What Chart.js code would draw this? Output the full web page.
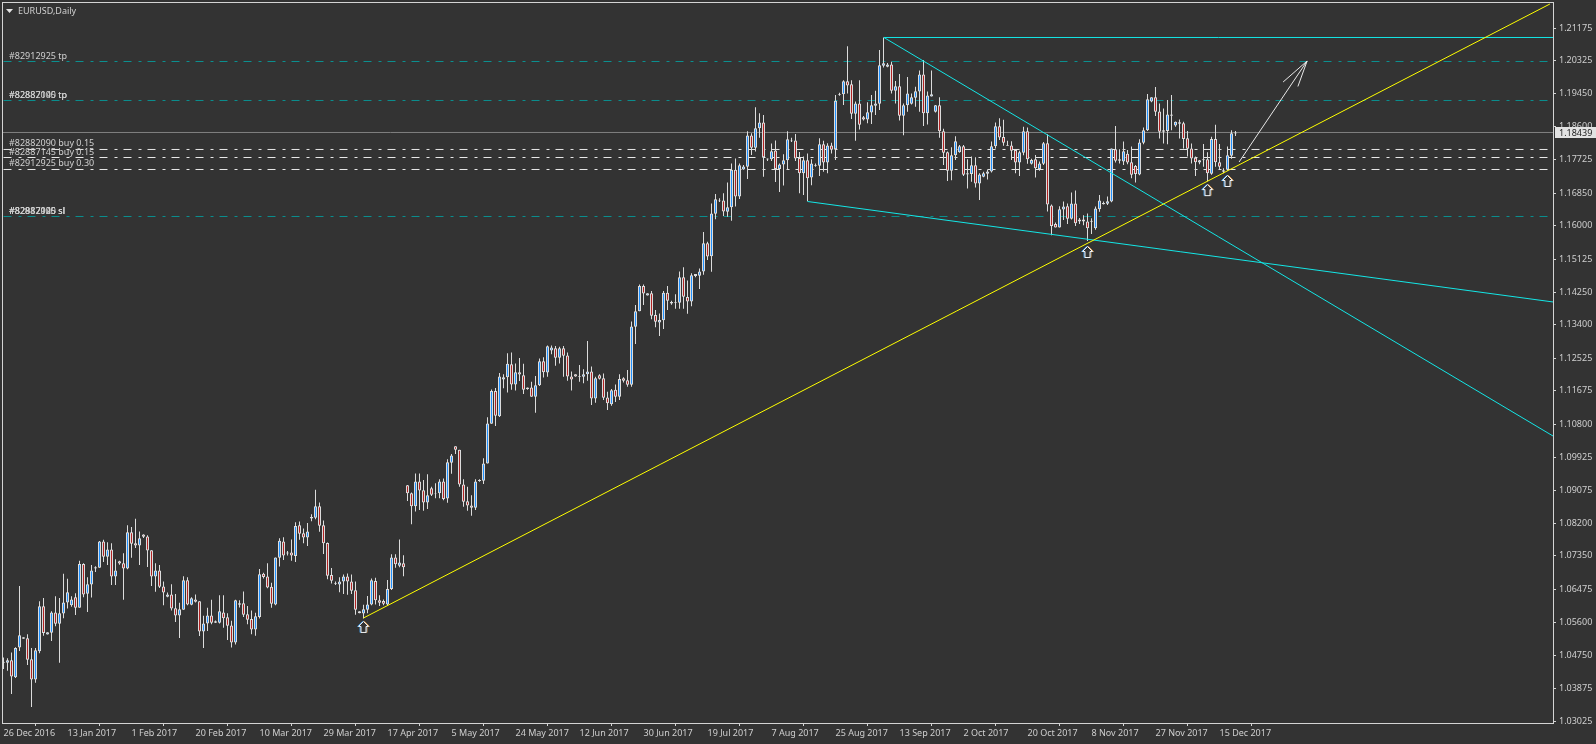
<!DOCTYPE html>
<html>
<head>
<meta charset="utf-8">
<title>EURUSD,Daily</title>
<style>
  html, body { margin: 0; padding: 0; background: #333333; }
  canvas { display: block; }
</style>
<script src="https://cdn.jsdelivr.net/npm/chart.js@4"></script>
</head>
<body>
<canvas id="chart" width="1596" height="744"></canvas>
<script>
const opens = [
  1.0455,1.0455,1.0462,1.0417,1.0495,1.0518,1.0519,1.0464,1.0411,1.0485,
  1.0603,1.0529,1.0534,1.0587,1.0557,1.0584,1.0613,1.0606,1.0627,1.0599,
  1.0714,1.0636,1.0660,1.0702,1.0704,1.0773,1.0733,1.0752,1.0681,1.0721,
  1.0716,1.0702,1.0797,1.0768,1.0762,1.0791,1.0786,1.0750,1.0681,1.0697,
  1.0655,1.0628,1.0634,1.0598,1.0579,1.0594,1.0671,1.0607,1.0621,1.0616,
  1.0537,1.0558,1.0579,1.0560,1.0560,1.0587,1.0574,1.0553,1.0508,1.0607,
  1.0611,1.0582,1.0570,1.0542,1.0575,1.0688,1.0681,1.0654,1.0608,1.0730,
  1.0773,1.0741,1.0744,1.0735,1.0815,1.0794,1.0783,1.0833,1.0835,1.0865,
  1.0815,1.0769,1.0685,1.0662,1.0660,1.0668,1.0681,1.0668,1.0645,1.0590,
  1.0584,1.0594,1.0608,1.0669,1.0619,1.0617,1.0608,1.0648,1.0731,1.0709,
  1.0716,1.0920,1.0899,1.0865,1.0930,1.0907,1.0875,1.0912,1.0898,1.0899,
  1.0930,1.0885,1.0979,1.1022,1.1013,1.0922,1.0878,1.0867,1.0861,1.0931,
  1.0932,1.0977,1.1081,1.1167,1.1101,1.1197,1.1203,1.1237,1.1184,1.1216,
  1.1208,1.1172,1.1176,1.1152,1.1182,1.1245,1.1215,1.1273,1.1279,1.1254,
  1.1279,1.1260,1.1205,1.1211,1.1204,1.1204,1.1211,1.1218,1.1147,1.1208,
  1.1200,1.1150,1.1132,1.1170,1.1152,1.1200,1.1195,1.1183,1.1335,1.1376,
  1.1442,1.1417,1.1423,1.1366,1.1346,1.1352,1.1424,1.1396,1.1398,1.1398,
  1.1465,1.1413,1.1401,1.1468,1.1469,1.1480,1.1554,1.1520,1.1631,1.1664,
  1.1666,1.1636,1.1648,1.1746,1.1676,1.1747,1.1754,1.1836,1.1804,1.1855,
  1.1870,1.1773,1.1774,1.1797,1.1748,1.1760,1.1771,1.1821,1.1823,1.1777,
  1.1737,1.1771,1.1726,1.1757,1.1757,1.1813,1.1765,1.1810,1.1800,1.1943,
  1.1944,1.1978,1.1970,1.1893,1.1920,1.1884,1.1878,1.1896,1.1914,1.1919,
  1.2019,1.2016,1.2022,1.1953,1.1965,1.1888,1.1915,1.1919,1.1935,1.1951,
  1.1996,1.1894,1.1938,1.1898,1.1915,1.1847,1.1792,1.1744,1.1784,1.1792,
  1.1808,1.1737,1.1735,1.1758,1.1710,1.1728,1.1736,1.1742,1.1808,1.1860,
  1.1832,1.1809,1.1810,1.1798,1.1765,1.1791,1.1847,1.1762,1.1774,1.1748,
  1.1762,1.1816,1.1653,1.1604,1.1595,1.1642,1.1651,1.1618,1.1658,1.1616,
  1.1616,1.1611,1.1610,1.1593,1.1643,1.1656,1.1657,1.1663,1.1800,1.1774,
  1.1768,1.1788,1.1766,1.1756,1.1734,1.1817,1.1850,1.1925,1.1936,1.1899,
  1.1846,1.1848,1.1888,1.1862,1.1867,1.1868,1.1829,1.1802,1.1778,1.1765,
  1.1771,1.1774,1.1736,1.1827,1.1766,1.1741,1.1746,1.1783,1.1841
];
const highs = [
  1.0469,1.0467,1.0482,1.0496,1.0656,1.0522,1.0530,1.0494,1.0494,1.0616,
  1.0625,1.0535,1.0590,1.0629,1.0625,1.0688,1.0675,1.0629,1.0637,1.0722,
  1.0716,1.0679,1.0711,1.0708,1.0774,1.0777,1.0771,1.0768,1.0726,1.0722,
  1.0742,1.0815,1.0811,1.0832,1.0799,1.0792,1.0789,1.0750,1.0716,1.0711,
  1.0668,1.0639,1.0661,1.0635,1.0612,1.0682,1.0679,1.0627,1.0634,1.0616,
  1.0578,1.0599,1.0620,1.0566,1.0632,1.0632,1.0585,1.0565,1.0620,1.0619,
  1.0642,1.0604,1.0592,1.0586,1.0701,1.0691,1.0716,1.0665,1.0731,1.0781,
  1.0784,1.0748,1.0778,1.0823,1.0825,1.0807,1.0821,1.0844,1.0908,1.0875,
  1.0828,1.0770,1.0703,1.0668,1.0679,1.0686,1.0689,1.0686,1.0668,1.0590,
  1.0607,1.0630,1.0676,1.0678,1.0632,1.0621,1.0672,1.0739,1.0739,1.0778,
  1.0737,1.0921,1.0901,1.0951,1.0951,1.0934,1.0949,1.0916,1.0925,1.0936,
  1.0938,1.0988,1.1002,1.1022,1.1013,1.0936,1.0916,1.0894,1.0936,1.0936,
  1.0991,1.1098,1.1171,1.1175,1.1214,1.1211,1.1266,1.1268,1.1239,1.1253,
  1.1238,1.1176,1.1191,1.1206,1.1252,1.1255,1.1286,1.1286,1.1285,1.1283,
  1.1285,1.1268,1.1218,1.1211,1.1235,1.1224,1.1298,1.1231,1.1204,1.1211,
  1.1213,1.1165,1.1172,1.1184,1.1211,1.1203,1.1222,1.1349,1.1392,1.1446,
  1.1446,1.1423,1.1429,1.1379,1.1370,1.1429,1.1442,1.1403,1.1420,1.1480,
  1.1491,1.1456,1.1475,1.1473,1.1488,1.1583,1.1558,1.1658,1.1683,1.1672,
  1.1685,1.1713,1.1763,1.1776,1.1763,1.1759,1.1847,1.1842,1.1910,1.1894,
  1.1890,1.1776,1.1815,1.1823,1.1763,1.1787,1.1847,1.1830,1.1840,1.1793,
  1.1781,1.1789,1.1774,1.1763,1.1829,1.1822,1.1816,1.1817,1.1942,1.1948,
  1.1981,1.2070,1.1981,1.1925,1.1981,1.1887,1.1923,1.1942,1.1953,1.2060,
  1.2093,1.2026,1.2029,1.1979,1.1997,1.1920,1.1989,1.1946,1.1964,1.2006,
  1.2034,1.1951,1.2006,1.1916,1.1936,1.1854,1.1794,1.1805,1.1834,1.1811,
  1.1811,1.1774,1.1781,1.1779,1.1737,1.1741,1.1746,1.1820,1.1870,1.1881,
  1.1877,1.1822,1.1821,1.1800,1.1796,1.1859,1.1857,1.1775,1.1785,1.1768,
  1.1819,1.1839,1.1655,1.1608,1.1651,1.1663,1.1658,1.1687,1.1692,1.1620,
  1.1627,1.1632,1.1619,1.1650,1.1680,1.1663,1.1676,1.1802,1.1861,1.1800,
  1.1820,1.1798,1.1807,1.1759,1.1826,1.1857,1.1945,1.1936,1.1963,1.1920,
  1.1907,1.1929,1.1942,1.1873,1.1878,1.1872,1.1848,1.1815,1.1781,1.1772,
  1.1814,1.1792,1.1833,1.1864,1.1814,1.1750,1.1807,1.1850,1.1848
];
const lows = [
  1.0439,1.0434,1.0373,1.0415,1.0486,1.0518,1.0449,1.0339,1.0403,1.0480,
  1.0526,1.0529,1.0512,1.0551,1.0455,1.0572,1.0597,1.0602,1.0580,1.0599,
  1.0627,1.0588,1.0626,1.0693,1.0704,1.0719,1.0711,1.0659,1.0659,1.0712,
  1.0620,1.0700,1.0730,1.0756,1.0711,1.0782,1.0706,1.0656,1.0641,1.0651,
  1.0606,1.0627,1.0592,1.0562,1.0520,1.0594,1.0606,1.0606,1.0613,1.0525,
  1.0494,1.0538,1.0556,1.0559,1.0558,1.0547,1.0515,1.0495,1.0503,1.0600,
  1.0575,1.0556,1.0530,1.0526,1.0571,1.0676,1.0650,1.0599,1.0606,1.0707,
  1.0724,1.0736,1.0722,1.0719,1.0777,1.0768,1.0761,1.0826,1.0831,1.0798,
  1.0740,1.0674,1.0663,1.0659,1.0640,1.0635,1.0633,1.0635,1.0581,1.0585,
  1.0571,1.0585,1.0606,1.0608,1.0604,1.0606,1.0604,1.0646,1.0704,1.0705,
  1.0682,1.0879,1.0818,1.0851,1.0855,1.0853,1.0858,1.0892,1.0886,1.0886,
  1.0881,1.0874,1.0950,1.1002,1.0916,1.0864,1.0853,1.0840,1.0855,1.0929,
  1.0923,1.0977,1.1081,1.1075,1.1099,1.1174,1.1163,1.1170,1.1168,1.1193,
  1.1159,1.1170,1.1152,1.1110,1.1180,1.1202,1.1204,1.1263,1.1233,1.1239,
  1.1204,1.1194,1.1168,1.1204,1.1191,1.1187,1.1194,1.1130,1.1136,1.1197,
  1.1143,1.1117,1.1128,1.1138,1.1143,1.1189,1.1178,1.1178,1.1290,1.1376,
  1.1392,1.1417,1.1355,1.1334,1.1311,1.1329,1.1379,1.1393,1.1382,1.1382,
  1.1382,1.1369,1.1389,1.1465,1.1434,1.1471,1.1510,1.1479,1.1617,1.1662,
  1.1625,1.1623,1.1613,1.1650,1.1670,1.1746,1.1722,1.1785,1.1794,1.1830,
  1.1728,1.1769,1.1769,1.1714,1.1688,1.1705,1.1746,1.1819,1.1769,1.1685,
  1.1680,1.1664,1.1706,1.1754,1.1730,1.1741,1.1737,1.1789,1.1772,1.1940,
  1.1916,1.1946,1.1879,1.1822,1.1852,1.1875,1.1868,1.1866,1.1890,1.1903,
  1.2014,1.2015,1.1946,1.1920,1.1875,1.1837,1.1898,1.1917,1.1911,1.1898,
  1.1861,1.1865,1.1938,1.1896,1.1830,1.1759,1.1717,1.1719,1.1772,1.1791,
  1.1730,1.1697,1.1715,1.1700,1.1667,1.1727,1.1721,1.1739,1.1802,1.1824,
  1.1809,1.1809,1.1772,1.1737,1.1730,1.1784,1.1762,1.1760,1.1726,1.1744,
  1.1759,1.1637,1.1575,1.1595,1.1595,1.1615,1.1604,1.1616,1.1599,1.1604,
  1.1601,1.1560,1.1578,1.1589,1.1636,1.1655,1.1654,1.1661,1.1765,1.1763,
  1.1759,1.1761,1.1724,1.1713,1.1732,1.1813,1.1848,1.1923,1.1887,1.1828,
  1.1815,1.1813,1.1850,1.1859,1.1828,1.1802,1.1781,1.1763,1.1730,1.1761,
  1.1754,1.1716,1.1733,1.1754,1.1747,1.1737,1.1744,1.1775,1.1835
];
const closes = [
  1.0458,1.0462,1.0419,1.0494,1.0527,1.0522,1.0463,1.0411,1.0488,1.0603,
  1.0533,1.0535,1.0587,1.0557,1.0585,1.0613,1.0640,1.0621,1.0599,1.0714,
  1.0634,1.0661,1.0697,1.0705,1.0773,1.0733,1.0752,1.0681,1.0697,1.0715,
  1.0702,1.0797,1.0767,1.0762,1.0781,1.0785,1.0749,1.0681,1.0697,1.0654,
  1.0639,1.0634,1.0597,1.0579,1.0595,1.0671,1.0608,1.0624,1.0615,1.0537,
  1.0558,1.0579,1.0560,1.0564,1.0590,1.0572,1.0552,1.0508,1.0619,1.0611,
  1.0581,1.0568,1.0542,1.0577,1.0687,1.0680,1.0652,1.0610,1.0731,1.0775,
  1.0736,1.0744,1.0736,1.0813,1.0793,1.0783,1.0799,1.0837,1.0865,1.0814,
  1.0768,1.0683,1.0670,1.0664,1.0668,1.0681,1.0668,1.0644,1.0594,1.0585,
  1.0595,1.0608,1.0671,1.0619,1.0612,1.0610,1.0648,1.0731,1.0713,1.0718,
  1.0705,1.0899,1.0865,1.0930,1.0906,1.0875,1.0894,1.0895,1.0899,1.0930,
  1.0884,1.0980,1.0998,1.1013,1.0922,1.0877,1.0867,1.0861,1.0930,1.0934,
  1.0977,1.1082,1.1167,1.1102,1.1205,1.1203,1.1238,1.1184,1.1216,1.1210,
  1.1170,1.1176,1.1152,1.1182,1.1245,1.1216,1.1284,1.1281,1.1254,1.1279,
  1.1259,1.1205,1.1197,1.1205,1.1206,1.1211,1.1218,1.1147,1.1200,1.1199,
  1.1149,1.1135,1.1169,1.1152,1.1198,1.1194,1.1183,1.1336,1.1376,1.1442,
  1.1422,1.1423,1.1364,1.1348,1.1353,1.1424,1.1403,1.1400,1.1400,1.1465,
  1.1414,1.1401,1.1470,1.1473,1.1480,1.1554,1.1519,1.1632,1.1669,1.1666,
  1.1637,1.1648,1.1746,1.1676,1.1758,1.1755,1.1836,1.1804,1.1855,1.1870,
  1.1779,1.1776,1.1795,1.1748,1.1760,1.1771,1.1826,1.1823,1.1776,1.1737,
  1.1771,1.1724,1.1763,1.1759,1.1813,1.1765,1.1810,1.1799,1.1927,1.1945,
  1.1978,1.1967,1.1893,1.1920,1.1864,1.1878,1.1897,1.1915,1.1920,1.2020,
  1.2025,1.2022,1.1953,1.1965,1.1888,1.1915,1.1946,1.1936,1.1952,1.1996,
  1.1894,1.1941,1.1944,1.1915,1.1847,1.1791,1.1744,1.1784,1.1821,1.1808,
  1.1733,1.1734,1.1758,1.1710,1.1734,1.1737,1.1742,1.1808,1.1860,1.1831,
  1.1817,1.1811,1.1796,1.1765,1.1792,1.1847,1.1774,1.1772,1.1750,1.1763,
  1.1816,1.1655,1.1599,1.1595,1.1643,1.1650,1.1618,1.1658,1.1606,1.1611,
  1.1611,1.1593,1.1613,1.1645,1.1666,1.1659,1.1664,1.1802,1.1770,1.1770,
  1.1795,1.1765,1.1733,1.1735,1.1818,1.1850,1.1931,1.1936,1.1898,1.1846,
  1.1850,1.1891,1.1891,1.1872,1.1871,1.1827,1.1801,1.1776,1.1766,1.1771,
  1.1774,1.1737,1.1827,1.1766,1.1754,1.1745,1.1784,1.1842,1.18439
];

const dateLabels = ['26 Dec 2016','13 Jan 2017','1 Feb 2017','20 Feb 2017','10 Mar 2017','29 Mar 2017','17 Apr 2017',
  '5 May 2017','24 May 2017','12 Jun 2017','30 Jun 2017','19 Jul 2017','7 Aug 2017','25 Aug 2017','13 Sep 2017',
  '2 Oct 2017','20 Oct 2017','8 Nov 2017','27 Nov 2017','15 Dec 2017'];
const priceTicks = [1.21175,1.20325,1.1945,1.186,1.17725,1.1685,1.16,1.15125,1.1425,1.134,1.12525,1.11675,1.108,
  1.09925,1.09075,1.082,1.0735,1.06475,1.056,1.0475,1.03875,1.03025];
const barsPerLabel = 16;

const lastPrice = 1.18439;
const tpPrices = [1.20298, 1.19277];
const slPrices = [1.16239];
const buyPrices = [1.17994, 1.17784, 1.1747];

const tpLabels = [[1.20298, '#82912925 tp'], [1.19277, '#82882090 tp'], [1.19277, '#82887145 tp']];
const buyLabels = [[1.17994, '#82882090 buy 0.15'], [1.17784, '#82887145 buy 0.15'], [1.1747, '#82912925 buy 0.30']];
const slLabels = [[1.16239, '#82882090 sl'], [1.16239, '#82887145 sl'], [1.16239, '#82912925 sl']];

const firstBar = -0.125, lastBar = 387.375, dashEnd = 386;
const trendYellow = [[90, 1.05724], [386.6, 1.21804]];
const channelTop = [[220.1, 1.20927], [lastBar, 1.20927]];
const channelFall = [[220.1, 1.20927], [lastBar, 1.1049]];
const channelLow = [[201, 1.16632], [lastBar, 1.14]];
const arrowShaft = [[308.9, 1.17666], [325.9, 1.20311]];
const arrowHead = [[319.9, 1.19761], [325.9, 1.20311], [323.6, 1.19644]];
const buyMarks = [[90, 1.0549], [271, 1.1531], [301, 1.1693], [306, 1.1717]];

const BG = '#333333', CANDLE_LINE = '#dcdcdc', UP = '#1e90ff', DOWN = '#b22222';
const TEAL = '#0b8f8f', CYAN = '#14e6e6', YELLOW = '#ffff00', WHITE = '#e8e8e8';
const FRAME = '#d4d4d4', TEXT = '#cfcfcf';
const FONT_FAMILY = '"Noto Sans", sans-serif';
const FONT = '9px ' + FONT_FAMILY;
const DASH = [8, 7, 3, 6];

function lineSet(points, color, dash, order) {
  return {
    type: 'line',
    data: points.map(p => ({x: p[0], y: p[1]})),
    borderColor: color,
    borderWidth: 1,
    borderDash: dash || [],
    pointRadius: 0,
    tension: 0,
    order: order
  };
}

// hollow up arrow, the same glyph at every buy mark
function markerCanvas() {
  const c = document.createElement('canvas');
  c.width = 13;
  c.height = 14;
  const g = c.getContext('2d');
  const path = (dx) => {
    g.beginPath();
    g.moveTo(6.5 + dx, 1.5);
    g.lineTo(11.5 + dx, 6.5);
    g.lineTo(9 + dx, 6.5);
    g.lineTo(9 + dx, 12.5);
    g.lineTo(4 + dx, 12.5);
    g.lineTo(4 + dx, 6.5);
    g.lineTo(1.5 + dx, 6.5);
    g.closePath();
    g.stroke();
  };
  g.lineWidth = 1;
  g.strokeStyle = '#d89a50';
  path(1);
  g.strokeStyle = '#3f94dc';
  path(-1);
  g.fillStyle = BG;
  path(0);
  g.fill();
  g.strokeStyle = '#f4f4f4';
  path(0);
  return c;
}

const bars = opens.map((o, i) => i);

const datasets = [
  lineSet([[firstBar, lastPrice], [lastBar, lastPrice]], '#808080', null, 9),
  ...tpPrices.concat(slPrices).map(p => lineSet([[0, p], [dashEnd, p]], TEAL, DASH, 9)),
  ...buyPrices.map(p => lineSet([[0, p], [dashEnd, p]], WHITE, DASH, 9)),
  {
    type: 'bar',
    data: bars.map(i => ({x: i, y: [lows[i], highs[i]]})),
    backgroundColor: CANDLE_LINE,
    borderWidth: 0,
    barThickness: 1,
    grouped: false,
    inflateAmount: 0,
    order: 6
  },
  {
    type: 'bar',
    data: bars.map(i => ({x: i, y: [opens[i], closes[i]]})),
    backgroundColor: bars.map(i => closes[i] >= opens[i] ? UP : DOWN),
    borderColor: CANDLE_LINE,
    borderWidth: 1,
    borderSkipped: false,
    barThickness: 3,
    grouped: false,
    inflateAmount: 0,
    order: 5
  },
  lineSet(channelTop, CYAN, null, 3),
  lineSet(channelFall, CYAN, null, 3),
  lineSet(channelLow, CYAN, null, 3),
  lineSet(trendYellow, YELLOW, null, 2),
  lineSet(arrowShaft, WHITE, null, 2),
  lineSet(arrowHead, WHITE, null, 2),
  {
    type: 'line',
    data: buyMarks.map(p => ({x: p[0], y: p[1]})),
    showLine: false,
    pointStyle: markerCanvas(),
    pointRadius: 7,
    order: 1
  }
];

const chartText = {
  id: 'chartText',
  beforeDraw(chart) {
    const ctx = chart.ctx;
    ctx.save();
    ctx.fillStyle = BG;
    ctx.fillRect(0, 0, chart.width, chart.height);
    ctx.restore();
  },
  afterDraw(chart) {
    const ctx = chart.ctx;
    const y = chart.scales.y;
    ctx.save();
    ctx.strokeStyle = FRAME;
    ctx.lineWidth = 1;
    ctx.strokeRect(2.5, 2.5, 1551, 721);

    // title triangle and name
    ctx.fillStyle = '#e4e4e4';
    ctx.beginPath();
    ctx.moveTo(6, 9);
    ctx.lineTo(13, 9);
    ctx.lineTo(9.5, 13);
    ctx.closePath();
    ctx.fill();
    ctx.font = FONT;
    ctx.textBaseline = 'middle';
    ctx.textAlign = 'left';
    ctx.fillStyle = TEXT;
    ctx.fillText('EURUSD,Daily', 18, 11);

    // order labels sit just above their lines
    tpLabels.concat(slLabels).forEach(l => ctx.fillText(l[1], 9, y.getPixelForValue(l[0]) - 5.5));
    ctx.fillText(buyLabels[0][1], 9, y.getPixelForValue(buyLabels[0][0]) - 6);
    ctx.fillText(buyLabels[1][1], 9, y.getPixelForValue(buyLabels[1][0]) - 5.5);
    ctx.fillText(buyLabels[2][1], 9, y.getPixelForValue(buyLabels[2][0]) - 6);

    // current price box
    const py = y.getPixelForValue(lastPrice);
    ctx.fillStyle = '#e2e2e2';
    ctx.fillRect(1555, Math.round(py) - 5, 41, 11);
    ctx.fillStyle = '#222222';
    ctx.fillText(lastPrice.toFixed(5), 1559, py + 0.5);
    ctx.restore();
  }
};

new Chart(document.getElementById('chart'), {
  type: 'bar',
  data: {datasets: datasets},
  plugins: [chartText],
  options: {
    responsive: false,
    animation: false,
    devicePixelRatio: 1,
    events: [],
    layout: {autoPadding: false, padding: {left: 3, top: 3, right: 0, bottom: 0}},
    plugins: {legend: {display: false}, tooltip: {enabled: false}, title: {display: false}},
    scales: {
      x: {
        type: 'linear',
        position: 'bottom',
        min: firstBar,
        max: lastBar,
        offset: false,
        afterFit: s => { s.height = 21; s.paddingLeft = 0; s.paddingRight = 0; },
        afterBuildTicks: s => { s.ticks = dateLabels.map((d, i) => ({value: i * barsPerLabel})); },
        border: {display: false},
        grid: {drawOnChartArea: false, drawTicks: true, tickLength: 3, color: FRAME},
        ticks: {
          autoSkip: false,
          maxRotation: 0,
          align: 'start',
          padding: 2,
          color: TEXT,
          font: {family: FONT_FAMILY, size: 9},
          callback: v => dateLabels[v / barsPerLabel]
        }
      },
      y: {
        type: 'linear',
        position: 'right',
        min: 1.029736,
        max: 1.218304,
        afterFit: s => { s.width = 43; s.paddingTop = 0; s.paddingBottom = 0; },
        afterBuildTicks: s => { s.ticks = priceTicks.map(v => ({value: v})); },
        border: {display: false},
        grid: {drawOnChartArea: false, drawTicks: true, tickLength: 3, color: FRAME},
        ticks: {
          autoSkip: false,
          padding: 3,
          color: TEXT,
          font: {family: FONT_FAMILY, size: 9},
          callback: v => v.toFixed(5)
        }
      }
    }
  }
});
</script>
</body>
</html>
